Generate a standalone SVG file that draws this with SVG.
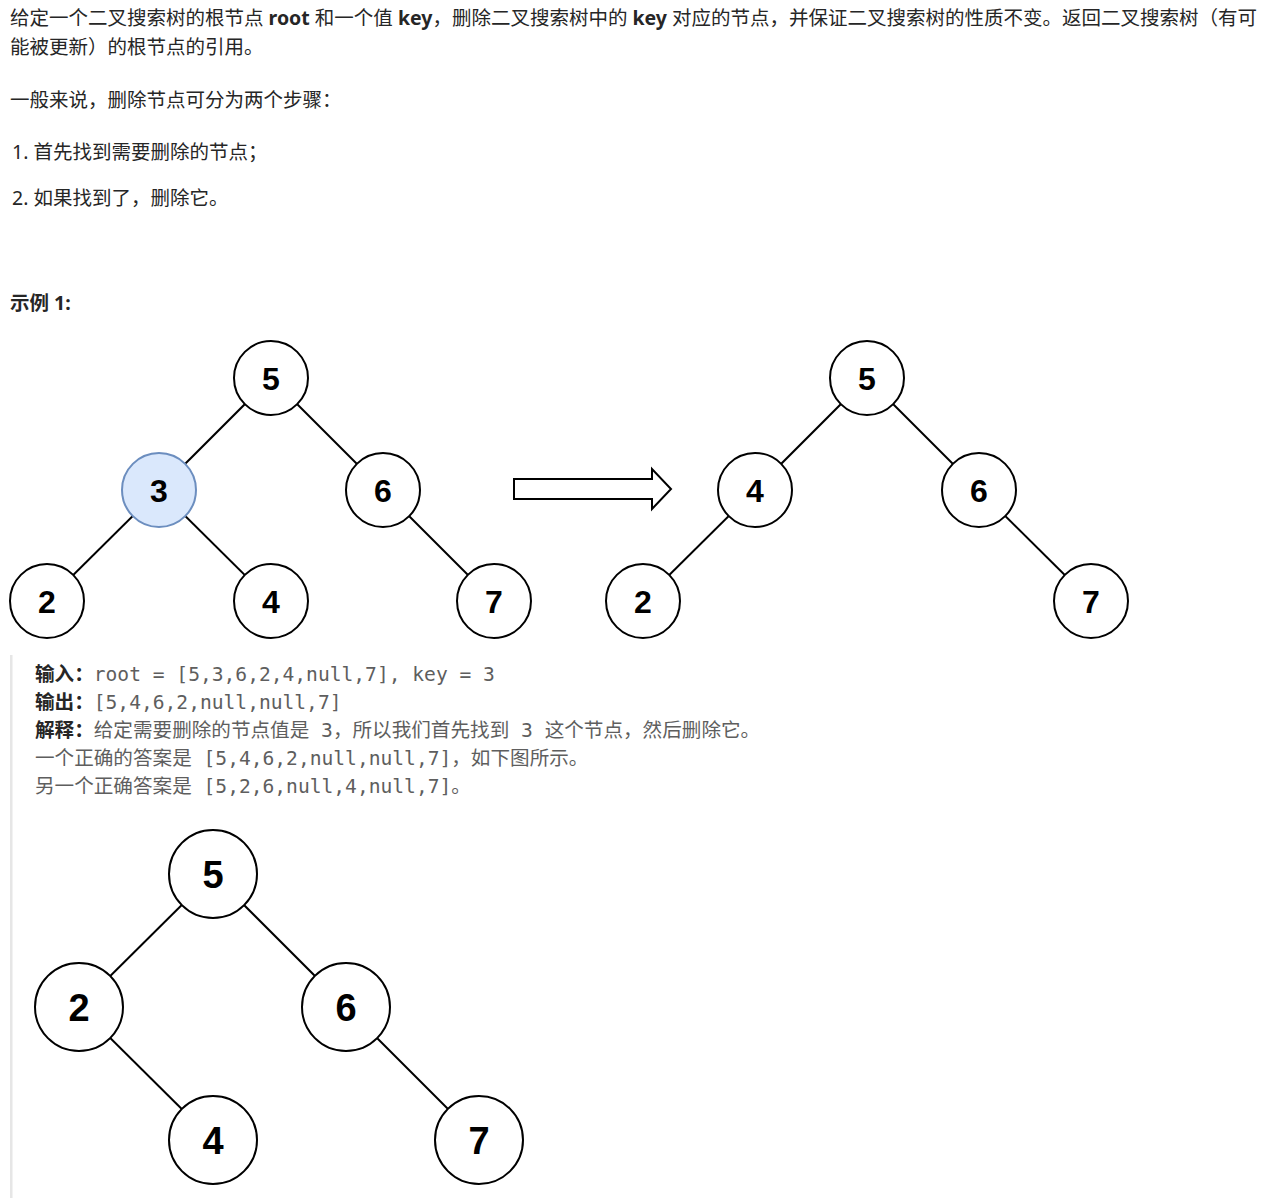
<svg xmlns="http://www.w3.org/2000/svg" width="1264" height="1198" viewBox="0 0 1264 1198">
<style>
.t{font-family:"Noto Sans","Noto Sans CJK SC",sans-serif;font-size:19.5px;fill:#262626}
.b{font-weight:bold}
.c{font-family:"DejaVu Sans Mono","Noto Sans CJK SC",monospace;font-size:19.6px;fill:#5e5e5e}
.cl{font-family:"Noto Sans CJK SC",sans-serif;font-weight:bold;fill:#262626}
.n{fill:#fff;stroke:#000;stroke-width:2}
.hl{fill:#dae8fc;stroke:#6c8ebf;stroke-width:2}
.e{stroke:#000;stroke-width:2;fill:none}
.l1{font-family:"Liberation Sans",Arial,sans-serif;font-weight:bold;font-size:32px;text-anchor:middle;fill:#000}
.l2{font-family:"Liberation Sans",Arial,sans-serif;font-weight:bold;font-size:38px;text-anchor:middle;fill:#000}
</style>
<rect width="1264" height="1198" fill="#fff"/>
<g id="text">
<text class="t" x="10" y="25">给定一个二叉搜索树的根节点 <tspan class="b">root</tspan> 和一个值 <tspan class="b">key</tspan>，删除二叉搜索树中的 <tspan class="b">key</tspan> 对应的节点，并保证二叉搜索树的性质不变。返回二叉搜索树（有可</text>
<text class="t" x="10" y="54">能被更新）的根节点的引用。</text>
<text class="t" x="10" y="107">一般来说，删除节点可分为两个步骤：</text>
<text class="t" x="12" y="159">1. 首先找到需要删除的节点；</text>
<text class="t" x="12" y="205">2. 如果找到了，删除它。</text>
<text class="t b" x="10" y="310">示例 1:</text>
</g>
<rect x="10" y="655" width="2.5" height="543" fill="#e6e6e6"/>
<g id="code">
<text class="c" x="35" y="681"><tspan class="cl">输入：</tspan>root = [5,3,6,2,4,null,7], key = 3</text>
<text class="c" x="35" y="709"><tspan class="cl">输出：</tspan>[5,4,6,2,null,null,7]</text>
<text class="c" x="35" y="737"><tspan class="cl">解释：</tspan>给定需要删除的节点值是 3，所以我们首先找到 3 这个节点，然后删除它。</text>
<text class="c" x="35" y="765">一个正确的答案是 [5,4,6,2,null,null,7]，如下图所示。</text>
<text class="c" x="35" y="793">另一个正确答案是 [5,2,6,null,4,null,7]。</text>
</g>
<g id="connectors">
<line class="e" x1="271" y1="378" x2="159" y2="490"/>
<line class="e" x1="271" y1="378" x2="383" y2="490"/>
<line class="e" x1="159" y1="490" x2="47" y2="601"/>
<line class="e" x1="159" y1="490" x2="271" y2="601"/>
<line class="e" x1="383" y1="490" x2="494" y2="601"/>
<line class="e" x1="867" y1="378" x2="755" y2="490"/>
<line class="e" x1="867" y1="378" x2="979" y2="490"/>
<line class="e" x1="755" y1="490" x2="643" y2="601"/>
<line class="e" x1="979" y1="490" x2="1091" y2="601"/>
<line class="e" x1="213" y1="874" x2="79" y2="1007"/>
<line class="e" x1="213" y1="874" x2="346" y2="1007"/>
<line class="e" x1="79" y1="1007" x2="213" y2="1140"/>
<line class="e" x1="346" y1="1007" x2="479" y2="1140"/>
<polygon points="514,479 652,479 652,469 671,489 652,509 652,499 514,499" fill="#fff" stroke="#000" stroke-width="2" stroke-linejoin="miter"/>
</g>
<g id="a5"><circle class="n" cx="271" cy="378" r="37"/><text class="l1" x="271" y="389.5">5</text></g>
<g id="a3"><circle class="hl" cx="159" cy="490" r="37"/><text class="l1" x="159" y="501.5">3</text></g>
<g id="a6"><circle class="n" cx="383" cy="490" r="37"/><text class="l1" x="383" y="501.5">6</text></g>
<g id="a2"><circle class="n" cx="47" cy="601" r="37"/><text class="l1" x="47" y="612.5">2</text></g>
<g id="a4"><circle class="n" cx="271" cy="601" r="37"/><text class="l1" x="271" y="612.5">4</text></g>
<g id="a7"><circle class="n" cx="494" cy="601" r="37"/><text class="l1" x="494" y="612.5">7</text></g>
<g id="b5"><circle class="n" cx="867" cy="378" r="37"/><text class="l1" x="867" y="389.5">5</text></g>
<g id="b4"><circle class="n" cx="755" cy="490" r="37"/><text class="l1" x="755" y="501.5">4</text></g>
<g id="b6"><circle class="n" cx="979" cy="490" r="37"/><text class="l1" x="979" y="501.5">6</text></g>
<g id="b2"><circle class="n" cx="643" cy="601" r="37"/><text class="l1" x="643" y="612.5">2</text></g>
<g id="b7"><circle class="n" cx="1091" cy="601" r="37"/><text class="l1" x="1091" y="612.5">7</text></g>
<g id="c5"><circle class="n" cx="213" cy="874" r="44"/><text class="l2" x="213" y="887.5">5</text></g>
<g id="c2"><circle class="n" cx="79" cy="1007" r="44"/><text class="l2" x="79" y="1020.5">2</text></g>
<g id="c6"><circle class="n" cx="346" cy="1007" r="44"/><text class="l2" x="346" y="1020.5">6</text></g>
<g id="c4"><circle class="n" cx="213" cy="1140" r="44"/><text class="l2" x="213" y="1153.5">4</text></g>
<g id="c7"><circle class="n" cx="479" cy="1140" r="44"/><text class="l2" x="479" y="1153.5">7</text></g>
</svg>
